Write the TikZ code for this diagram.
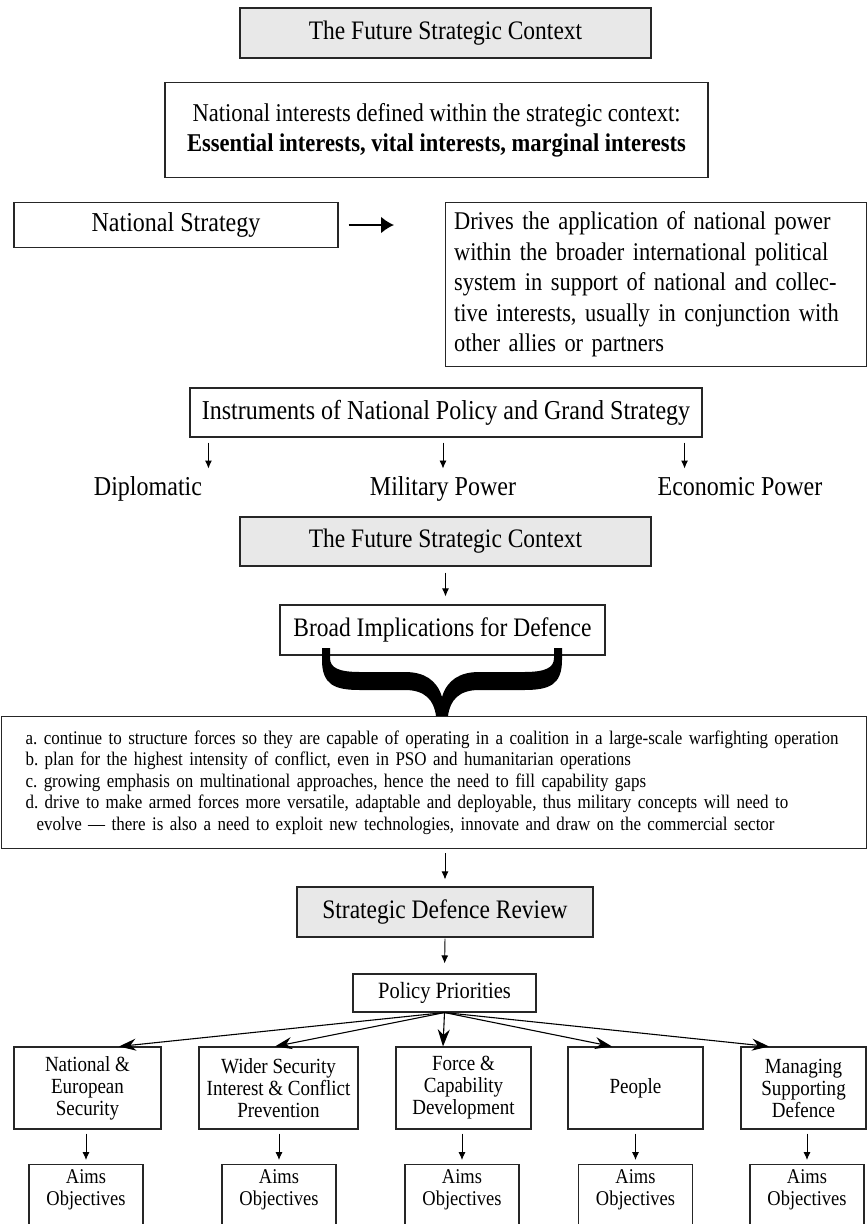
\documentclass[tikz,border=0pt]{standalone}
\usepackage{fontspec}
\setmainfont{Liberation Serif}[FakeStretch=0.88]
\usetikzlibrary{calc,arrows.meta}

\newcommand{\fsize}[2]{\fontsize{#1}{#2}\selectfont}

\tikzset{
  box/.style={draw=black!85, line width=1.1pt, inner sep=0pt, align=center},
  greybox/.style={box, fill=black!9},
  big/.style={font=\fsize{26.7}{30}},
  arr/.style={-{Latex[length=8pt,width=7pt]}, line width=0.9pt},
  fanarr/.style={-{Stealth[length=17pt,width=12pt]}, line width=1.1pt},
  bigarr/.style={-{Latex[length=13pt,width=17pt]}, line width=2.2pt}
}

\begin{document}
\begin{tikzpicture}[x=1pt, y=-1pt]
  \path[use as bounding box, clip] (0,0) rectangle (867,1224);

  % context and interests
  \node[greybox, big, minimum width=411, minimum height=50] (ctxa) at (445.5,33) {The Future Strategic Context};
  \node[box, minimum width=543, minimum height=95, font=\fsize{25.6}{30}] (intr) at (436.5,130)
    {National interests defined within the strategic context:\\\textbf{Essential interests, vital interests, marginal interests}};

  % national strategy
  \node[box, minimum width=324, minimum height=45, font=\fsize{27.3}{30}] (nstr) at (176,225) {National Strategy};
  \node[box, anchor=north west, minimum height=164, text width=410, inner xsep=5.5, align=left, font=\fsize{25.5}{30.5}] (drv) at (445,202)
    {\hspace*{3pt}Drives the application of national power\\\hspace*{3pt}within the broader international political\\\hspace*{3pt}system in support of national and collec-\\\hspace*{3pt}tive interests, usually in conjunction with\\\hspace*{3pt}other allies or partners};
  \draw[bigarr, shorten <=10, shorten >=51] (nstr.east) -- (nstr.east -| drv.west);

  % instruments
  \node[box, minimum width=512, minimum height=49, font=\fsize{27.3}{30}] (inst) at (446,412.5) {Instruments of National Policy and Grand Strategy};
  \node[font=\fsize{27.3}{30}, anchor=base] (dipl) at (148,495) {Diplomatic};
  \node[font=\fsize{27.3}{30}, anchor=base] (milp) at (443,495) {Military Power};
  \node[font=\fsize{27.3}{30}, anchor=base] (ecop) at (740,495) {Economic Power};
  \draw[arr] ($(inst.south west)+(19,5)$) -- ($(inst.south west)+(19,31)$);
  \draw[arr, shorten <=5, shorten >=4] (milp.north |- inst.south) -- (milp.north);
  \draw[arr] ($(inst.south east)+(-18,5)$) -- ($(inst.south east)+(-18,31)$);

  \node[greybox, big, minimum width=411, minimum height=49] (ctxb) at (445.5,541.5) {The Future Strategic Context};
  \node[box, big, minimum width=325, minimum height=50] (brd) at (442.5,630) {Broad Implications for Defence};
  \draw[arr, shorten <=6, shorten >=8] (ctxb.south) -- (ctxb.south |- brd.north);

  \node[box, anchor=north west, text width=817, inner xsep=24, minimum height=132, align=left, font=\fsize{19.3}{21.5}\frenchspacing] (impl) at (1,716)
    {a. continue to structure forces so they are capable of operating in a coalition in a large-scale warfighting operation\\
     b. plan for the highest intensity of conflict, even in PSO and humanitarian operations\\
     c. growing emphasis on multinational approaches, hence the need to fill capability gaps\\
     d. drive to make armed forces more versatile, adaptable and deployable, thus military concepts will need to\\
     \hspace*{11pt}evolve --- there is also a need to exploit new technologies, innovate and draw on the commercial sector};

  % brace
  \fill (322,648) -- (322,660) .. controls (322,685) and (335,690) .. (360,690) -- (405,690)
    .. controls (425,690) and (434,700) .. (436,716) -- (448,716)
    .. controls (450,700) and (459,690) .. (479,690) -- (524,690)
    .. controls (549,690) and (562,685) .. (562,660) -- (562,648) -- (554,648) -- (554,658)
    .. controls (554,668) and (545,672) .. (524,672) -- (479,672)
    .. controls (460,672) and (447,680) .. (442,697)
    .. controls (437,680) and (424,672) .. (405,672) -- (360,672)
    .. controls (339,672) and (330,668) .. (330,658) -- (330,648) -- cycle;

  % review and priorities
  \node[greybox, big, minimum width=296, minimum height=50] (sdr) at (445,912) {Strategic Defence Review};
  \draw[arr, shorten <=4, shorten >=7] (sdr.north |- impl.south) -- (sdr.north);
  \node[box, minimum width=183, minimum height=38, font=\fsize{23.3}{26}] (pol) at (444.5,993) {Policy Priorities};
  \draw[arr, shorten <=1, shorten >=10] (sdr.south) -- (pol.north);

  \foreach \id/\cx/\bw/\txt in {nes/87.5/147/{National \&\\European\\Security},
      wsi/278.5/159/{Wider Security\\Interest \& Conflict\\Prevention},
      fcd/463.5/135/{Force \&\\Capability\\Development},
      ppl/635.5/135/{People},
      msd/803.5/125/{Managing\\Supporting\\Defence}} {
    \node[box, minimum width=\bw, minimum height=82, font=\fsize{21.6}{22}] (\id) at (\cx,1088) {\txt};
  }

  \foreach \id/\dx in {nes/31.5, wsi/-3.5, fcd/-20.5, ppl/-23.5, msd/-34.5}
    \draw[fanarr] (pol.south) -- ($(\id.north)+(\dx,0)$);

  \foreach \id/\cx in {nes/86, wsi/279, fcd/462, ppl/635.5, msd/807} {
    \node[box, anchor=north, minimum width=114, inner ysep=5, text depth=40, font=\fsize{21}{22}] (aim\id) at (\cx,1164) {Aims\\Objectives};
    \draw[arr, shorten <=4, shorten >=4] (aim\id.north |- \id.south) -- (aim\id.north);
  }
\end{tikzpicture}
\end{document}
